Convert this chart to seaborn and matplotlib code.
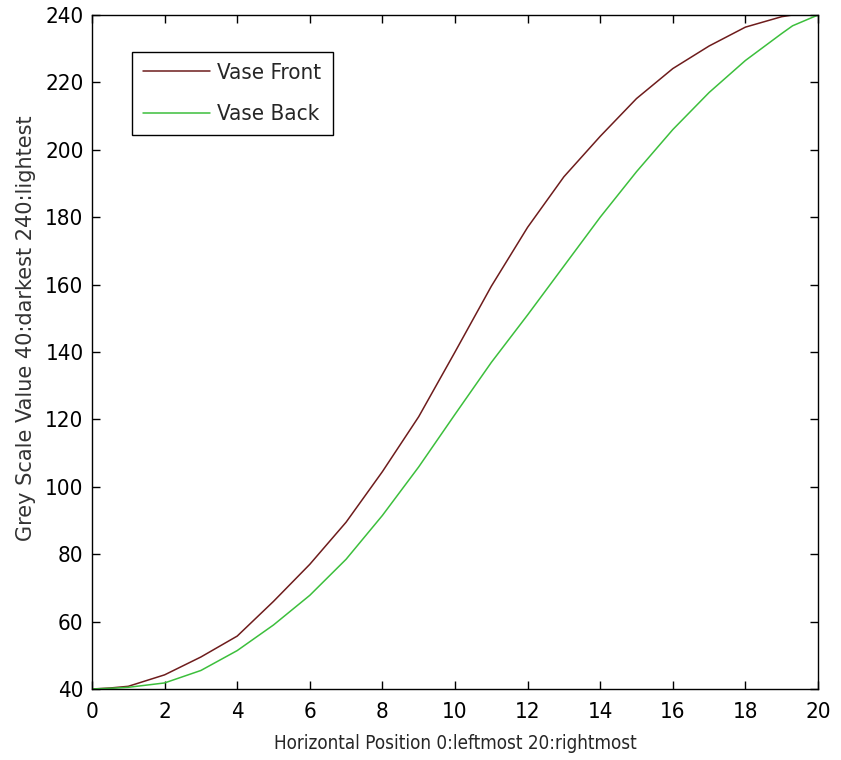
"""
Grey scale profile across the vase, front vs back.
"""

import numpy as np
import pandas as pd
import matplotlib
matplotlib.use("Agg")
import matplotlib.pyplot as plt
import seaborn as sns

### Data ###

positions = [0, 0.5, 1, 2, 3, 4, 5, 6, 7, 8, 9, 10, 11, 12, 13, 14, 15, 16, 17, 18, 19, 19.3, 20]
vase_front = [40, 40.3, 40.8, 44.2, 49.5, 55.7, 66, 77, 89.5, 104.5, 120.8, 140, 159.5,
              177, 192, 204, 215.2, 224.1, 230.8, 236.4, 239.5, 240, 240]
vase_back = [40, 40.2, 40.5, 41.8, 45.5, 51.4, 59, 67.8, 78.5, 91.5, 105.9, 121.5, 136.9,
             151, 165.5, 180, 193.5, 206, 217, 226.5, 234.5, 236.8, 240]

series_names = ["Vase Front", "Vase Back"]
series_colors = ["#6e1c1c", "#3cbf3c"]
x_ticks = list(range(0, 21, 2))
y_ticks = list(range(40, 241, 20))

### Plot ###

sns.set_style("ticks")
plt.rcParams["font.family"] = ["DejaVu Sans"]
plt.rcParams["font.stretch"] = "condensed"

fig = plt.figure(figsize=(8.41, 7.60), dpi=100)
ax = fig.add_axes([92 / 841, 71 / 760, 726 / 841, 674 / 760])

df = pd.DataFrame({
    "pos": positions * 2,
    "value": vase_front + vase_back,
    "series": [series_names[0]] * len(positions) + [series_names[1]] * len(positions),
})
sns.lineplot(data=df, x="pos", y="value", hue="series", hue_order=series_names,
             palette=series_colors, linewidth=1.1, ax=ax)

ax.set_xlim(0, 20)
ax.set_ylim(40, 240)
ax.set_xticks(x_ticks)
ax.set_yticks(y_ticks)
ax.tick_params(direction="in", length=6, width=1, top=True, right=True,
               labelsize=16, colors="black")
ax.tick_params(axis="x", pad=9)
ax.tick_params(axis="y", pad=6)
for side in ["left", "right", "top", "bottom"]:
    ax.spines[side].set_visible(True)
    ax.spines[side].set_linewidth(1.0)
    ax.spines[side].set_color("black")

ax.set_xlabel("Horizontal Position 0:leftmost 20:rightmost", fontsize=13.5, labelpad=9)
ax.set_ylabel("Grey Scale Value 40:darkest 240:lightest", fontsize=15,
              fontstretch="normal", color="#333333")
ax.yaxis.set_label_coords(-0.077, 0.535)

leg = ax.legend(loc="upper left", bbox_to_anchor=(0.055, 0.945), borderaxespad=0,
                fontsize=16, frameon=True, fancybox=False, edgecolor="black",
                framealpha=1, handlelength=3.0, handletextpad=0.35, borderpad=0.5,
                labelspacing=0.95)
leg.get_frame().set_linewidth(1.0)

plt.savefig("out.png", dpi=100)
